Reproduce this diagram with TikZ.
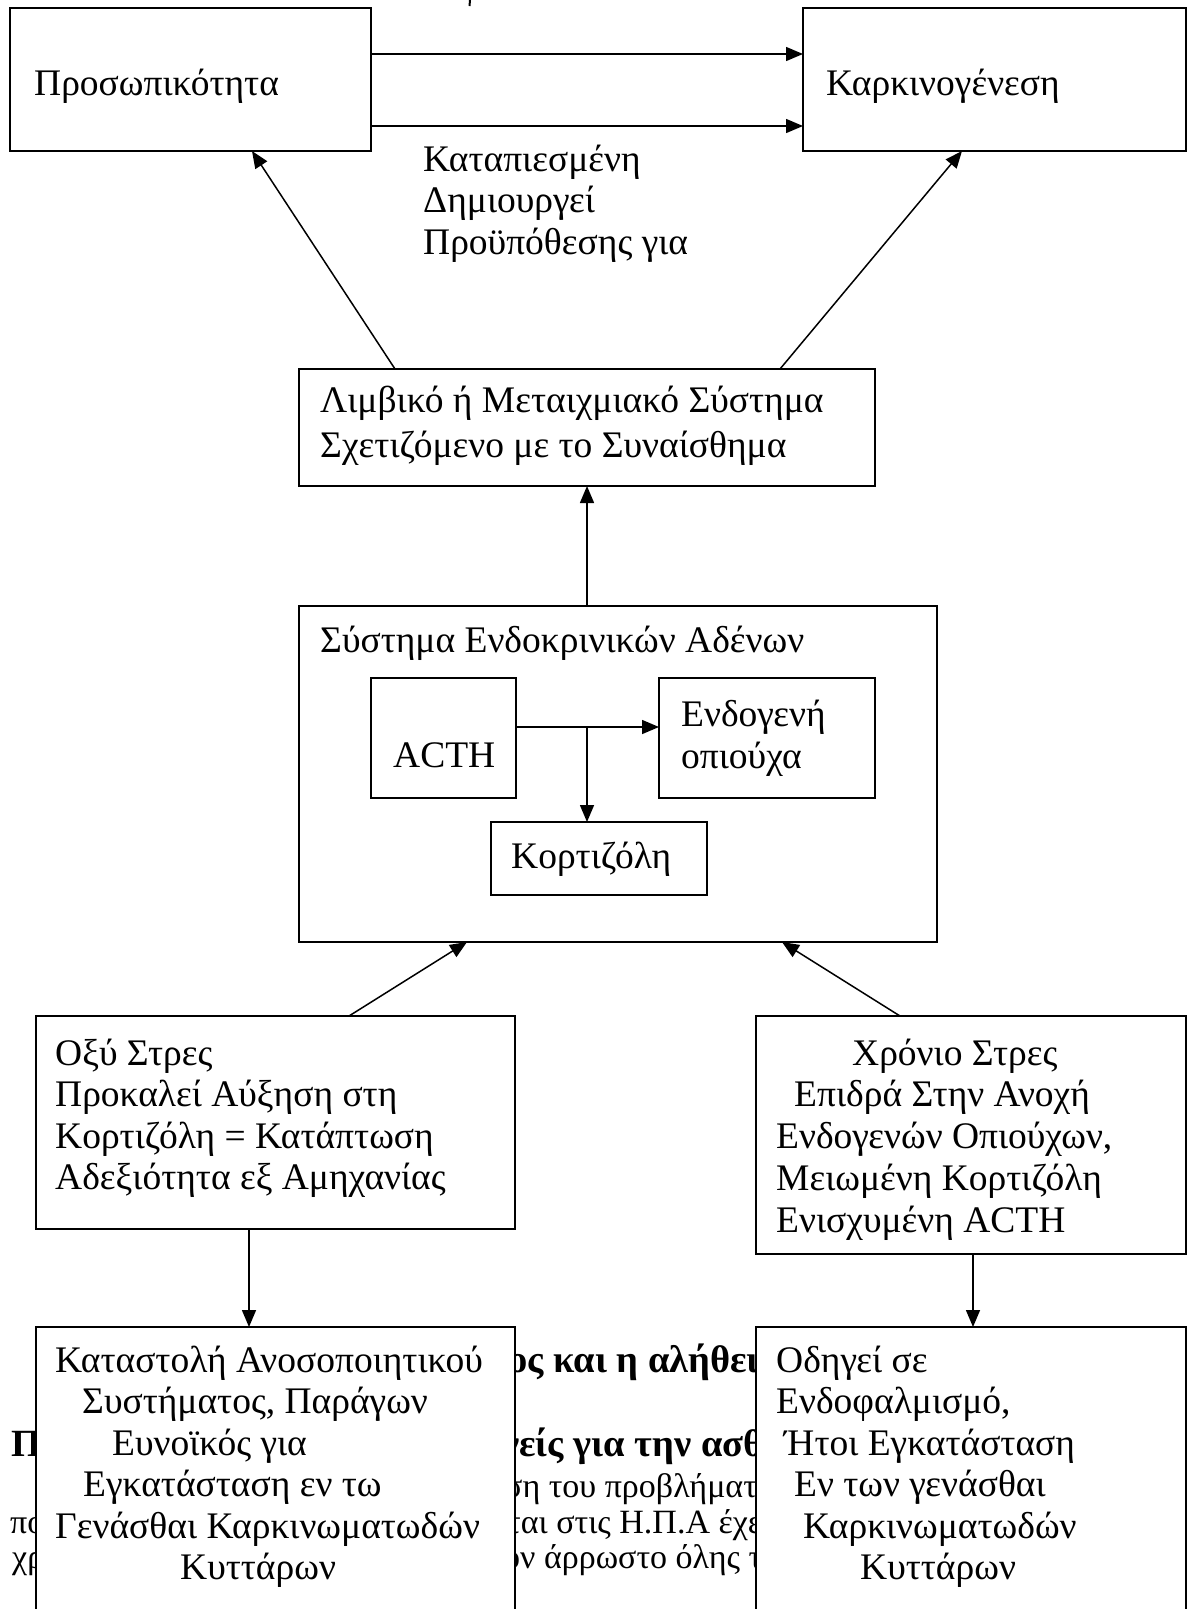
\documentclass[tikz,border=0pt]{standalone}
\usepackage{fontspec}
\setmainfont{Liberation Serif}
\usetikzlibrary{calc,arrows.meta}

\tikzset{
  box/.style={draw,rectangle,line width=1.8pt,fill=white,inner sep=0pt,outer sep=0pt},
  txt/.style={anchor=base west,align=left,inner sep=0pt,font=\fontsize{37.5}{41.5}\selectfont},
  bgtxt/.style={anchor=base west,inner sep=0pt,font=\fontsize{34}{38}\selectfont},
  bgbold/.style={bgtxt,font=\fontsize{38.5}{40}\selectfont\bfseries},
  arr/.style={-{Triangle[length=17pt,width=14pt]},line width=1.5pt}
}

\begin{document}
\begin{tikzpicture}[x=1pt,y=-1pt]
\useasboundingbox (0,0) rectangle (1187,1609);

% text of the page behind the lower boxes
\begin{scope}
\clip (0,1320) rectangle (36,1609) (515,1320) rectangle (756,1609);
\node[bgbold] (bga) at (508,1372) {ος και η αλήθει};
\node[bgbold] (bgb) at (11,1456) {Π};
\node[bgbold] (bgc) at (502,1456) {νείς για την ασθέ};
\node[bgtxt] (bgd) at (504,1497) {ση του προβλήματ};
\node[bgtxt] (bge) at (10,1533) {πο};
\node[bgtxt] (bgf) at (507,1533) {ται στις Η.Π.Α έχε};
\node[bgtxt] (bgg) at (12,1568) {χρ};
\node[bgtxt] (bgh) at (503,1568) {ον άρρωστο όλης τ};
\end{scope}
\draw[line width=2pt] (470,0) -- (469.5,6);

% boxes
\node[box,minimum width=361pt,minimum height=143pt] (pers) at (190.5,79.5) {};
\node[box,minimum width=383pt,minimum height=143pt] (carc) at (994.5,79.5) {};
\node[box,minimum width=576pt,minimum height=117pt] (limb) at (587,427.5) {};
\node[box,minimum width=638pt,minimum height=336pt] (endo) at (618,774) {};
\node[box,minimum width=145pt,minimum height=120pt] (acth) at (443.5,738) {};
\node[box,minimum width=216pt,minimum height=120pt] (opi) at (767,738) {};
\node[box,minimum width=216pt,minimum height=73pt] (kort) at (599,858.5) {};
\node[box,minimum width=479pt,minimum height=213pt] (acute) at (275.5,1122.5) {};
\node[box,minimum width=430pt,minimum height=238pt] (chron) at (971,1135) {};
\node[box,minimum width=479pt,minimum height=293pt] (supp) at (275.5,1473.5) {};
\node[box,minimum width=430pt,minimum height=293pt] (lead) at (971,1473.5) {};

% texts (multi-line ones sit on their last line)
\node[txt] (perst) at ($(pers.north west)+(24,87)$) {Προσωπικότητα};
\node[txt] (carct) at ($(carc.north west)+(23,87)$) {Καρκινογένεση};
\node[txt] (lbl) at ($(pers.south east)+(52,103)$) {Καταπιεσμένη\\Δημιουργεί\\Προϋπόθεσης για};
\node[txt,font=\fontsize{37.5}{45}\selectfont] (limbt) at ($(limb.north west)+(21,88)$) {Λιμβικό ή Μεταιχμιακό Σύστημα\\Σχετιζόμενο με το Συναίσθημα};
\node[txt] (endot) at ($(endo.north west)+(21,46)$) {Σύστημα Ενδοκρινικών Αδένων};
\node[txt] (actht) at ($(acth.north west)+(22,89)$) {ACTH};
\node[txt] (opit) at ($(opi.north west)+(22,90)$) {Ενδογενή\\οπιούχα};
\node[txt] (kortt) at ($(kort.north west)+(20,46)$) {Κορτιζόλη};
\node[txt] (acutet) at ($(acute.north west)+(19,173.5)$) {Οξύ Στρες\\Προκαλεί Αύξηση στη\\Κορτιζόλη = Κατάπτωση\\Αδεξιότητα εξ Αμηχανίας};
\node[txt,font=\fontsize{37.5}{41.75}\selectfont] (chront) at ($(chron.north west)+(20,216)$) {\hspace*{76pt}Χρόνιο Στρες\\\hspace*{18pt}Επιδρά Στην Ανοχή\\Ενδογενών Οπιούχων,\\Μειωμένη Κορτιζόλη\\Ενισχυμένη ACTH};
\node[txt] (suppt) at ($(supp.north west)+(19,252.5)$) {Καταστολή Ανοσοποιητικού\\\hspace*{27pt}Συστήματος, Παράγων\\\hspace*{57pt}Ευνοϊκός για\\\hspace*{28pt}Εγκατάσταση εν τω\\Γενάσθαι Καρκινωματωδών\\\hspace*{125pt}Κυττάρων};
\node[txt] (leadt) at ($(lead.north west)+(20,252.5)$) {Οδηγεί σε\\Ενδοφαλμισμό,\\\hspace*{8pt}Ήτοι Εγκατάσταση\\\hspace*{18pt}Εν των γενάσθαι\\\hspace*{27pt}Καρκινωματωδών\\\hspace*{84pt}Κυττάρων};

% connectors
\draw[arr] ($(pers.east)+(0,-25.5)$) -- ($(carc.west)+(0,-25.5)$);
\draw[arr] ($(pers.east)+(0,46.5)$) -- ($(carc.west)+(0,46.5)$);
\draw[arr] ($(limb.north west)+(96,0)$) -- ($(pers.south west)+(242,0)$);
\draw[arr] ($(limb.north west)+(481,0)$) -- ($(carc.south west)+(159,0)$);
\draw[arr] ($(endo.north west)+(288,0)$) -- ($(limb.south west)+(288,0)$);
\draw[arr] ($(acth.east)+(0,-11)$) -- ($(opi.west)+(0,-11)$);
\draw[arr] ($(acth.east)+(71,-11)$) -- ($(kort.north west)+(96,0)$);
\draw[arr] ($(acute.north west)+(313,0)$) -- ($(endo.south west)+(168,0)$);
\draw[arr] ($(chron.north west)+(144,0)$) -- ($(endo.south west)+(483,0)$);
\draw[arr] ($(acute.south west)+(213,0)$) -- ($(supp.north west)+(213,0)$);
\draw[arr] ($(chron.south west)+(217,0)$) -- ($(lead.north west)+(217,0)$);

\end{tikzpicture}
\end{document}
